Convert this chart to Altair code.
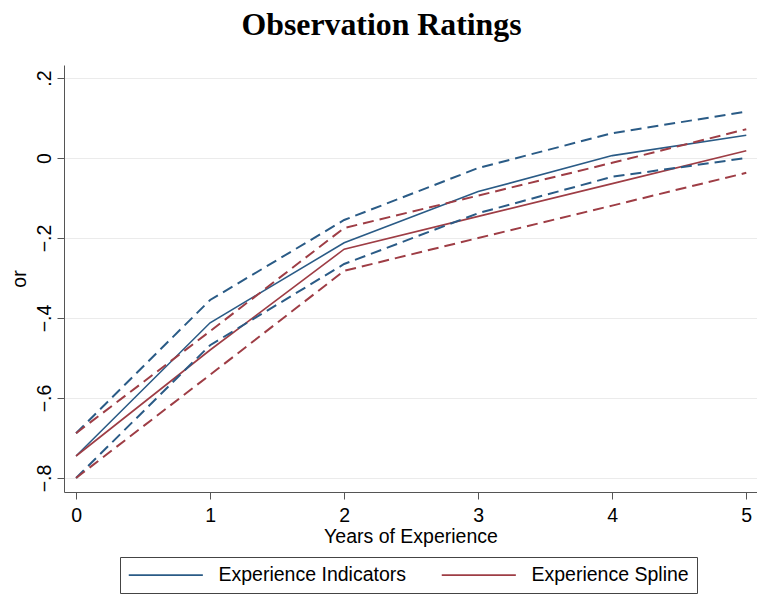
import altair as alt
import pandas as pd

# Years of experience on the x axis
years = [0, 1, 2, 3, 4, 5]

# Experience indicators: point estimates and confidence bounds
ind_est = [-0.745, -0.412, -0.212, -0.084, 0.006, 0.057]
ind_hi = [-0.688, -0.355, -0.155, -0.025, 0.062, 0.116]
ind_lo = [-0.800, -0.468, -0.265, -0.138, -0.047, 0.000]

# Experience spline: point estimates and confidence bounds
spl_est = [-0.745, -0.480, -0.228, -0.146, -0.064, 0.018]
spl_hi = [-0.688, -0.433, -0.175, -0.094, -0.012, 0.072]
spl_lo = [-0.800, -0.542, -0.282, -0.200, -0.119, -0.037]

series_names = ["Experience Indicators", "Experience Spline"]
series_colors = ["#2a5b86", "#9e3d45"]

rows = []
for name, est, hi, lo in [
    (series_names[0], ind_est, ind_hi, ind_lo),
    (series_names[1], spl_est, spl_hi, spl_lo),
]:
    for band, vals in [("est", est), ("hi", hi), ("lo", lo)]:
        for x, v in zip(years, vals):
            rows.append({"years": x, "value": v, "series": name, "band": band})
df = pd.DataFrame(rows)

font = "Liberation Sans"
text_size = 19.5

x_enc = alt.X(
    "years:Q",
    scale=alt.Scale(domain=[-0.09, 5.08], nice=False, zero=False),
    axis=alt.Axis(
        values=years,
        title="Years of Experience",
        grid=False,
        format="d",
        tickSize=7,
        labelPadding=7,
        titlePadding=3,
    ),
)
y_enc = alt.Y(
    "value:Q",
    scale=alt.Scale(domain=[-0.835, 0.2325], nice=False, zero=False),
    axis=alt.Axis(
        values=[-0.8, -0.6, -0.4, -0.2, 0, 0.2],
        title="or",
        labelAngle=270,
        labelExpr="datum.value == 0 ? '0' : replace(format(datum.value, '.1f'), '0.', '.')",
        tickSize=7,
        labelPadding=3,
        titlePadding=5,
        grid=True,
    ),
)
color_scale = alt.Scale(domain=series_names, range=series_colors)

# Legend key: a long horizontal stroke starting just left of the symbol centre
legend_key = "M-3,0L21.7,0"

solid = (
    alt.Chart(df)
    .transform_filter(alt.datum.band == "est")
    .mark_line(strokeWidth=1.6)
    .encode(
        x=x_enc,
        y=y_enc,
        color=alt.Color(
            "series:N",
            scale=color_scale,
            title=None,
            legend=alt.Legend(
                orient="none",
                legendX=56,
                legendY=492,
                direction="horizontal",
                symbolType=legend_key,
                symbolSize=36,
                symbolStrokeWidth=1.6,
                labelOffset=71,
                columnPadding=31,
                padding=8,
                strokeColor="#444444",
                labelFontSize=text_size,
                labelFont=font,
                labelColor="#000000",
                labelLimit=400,
            ),
        ),
        detail="band:N",
    )
)

dashed = (
    alt.Chart(df)
    .transform_filter(alt.datum.band != "est")
    .mark_line(strokeWidth=2, strokeDash=[11, 6])
    .encode(
        x=x_enc,
        y=y_enc,
        color=alt.Color("series:N", scale=color_scale, legend=None),
        detail="band:N",
    )
)

chart = (
    alt.layer(solid, dashed)
    .properties(
        width=693,
        height=427,
        background="white",
        title=alt.TitleParams(
            "Observation Ratings",
            font="Liberation Serif",
            fontSize=31.8,
            fontWeight="bold",
            color="#000000",
            anchor="middle",
            dx=-29,
            offset=23,
        ),
        autosize=alt.AutoSizeParams(type="none"),
        padding={"left": 64, "top": 65, "right": 0, "bottom": 103},
    )
    .configure_view(stroke=None)
    .configure_axis(
        labelFont=font,
        titleFont=font,
        labelFontSize=text_size,
        titleFontSize=text_size,
        titleFontWeight="normal",
        labelColor="#000000",
        titleColor="#000000",
        domainColor="#555555",
        tickColor="#555555",
        gridColor="#ebebeb",
        gridWidth=1,
    )
)

chart.save("out.html", embed_options={"renderer": "svg", "actions": False})
